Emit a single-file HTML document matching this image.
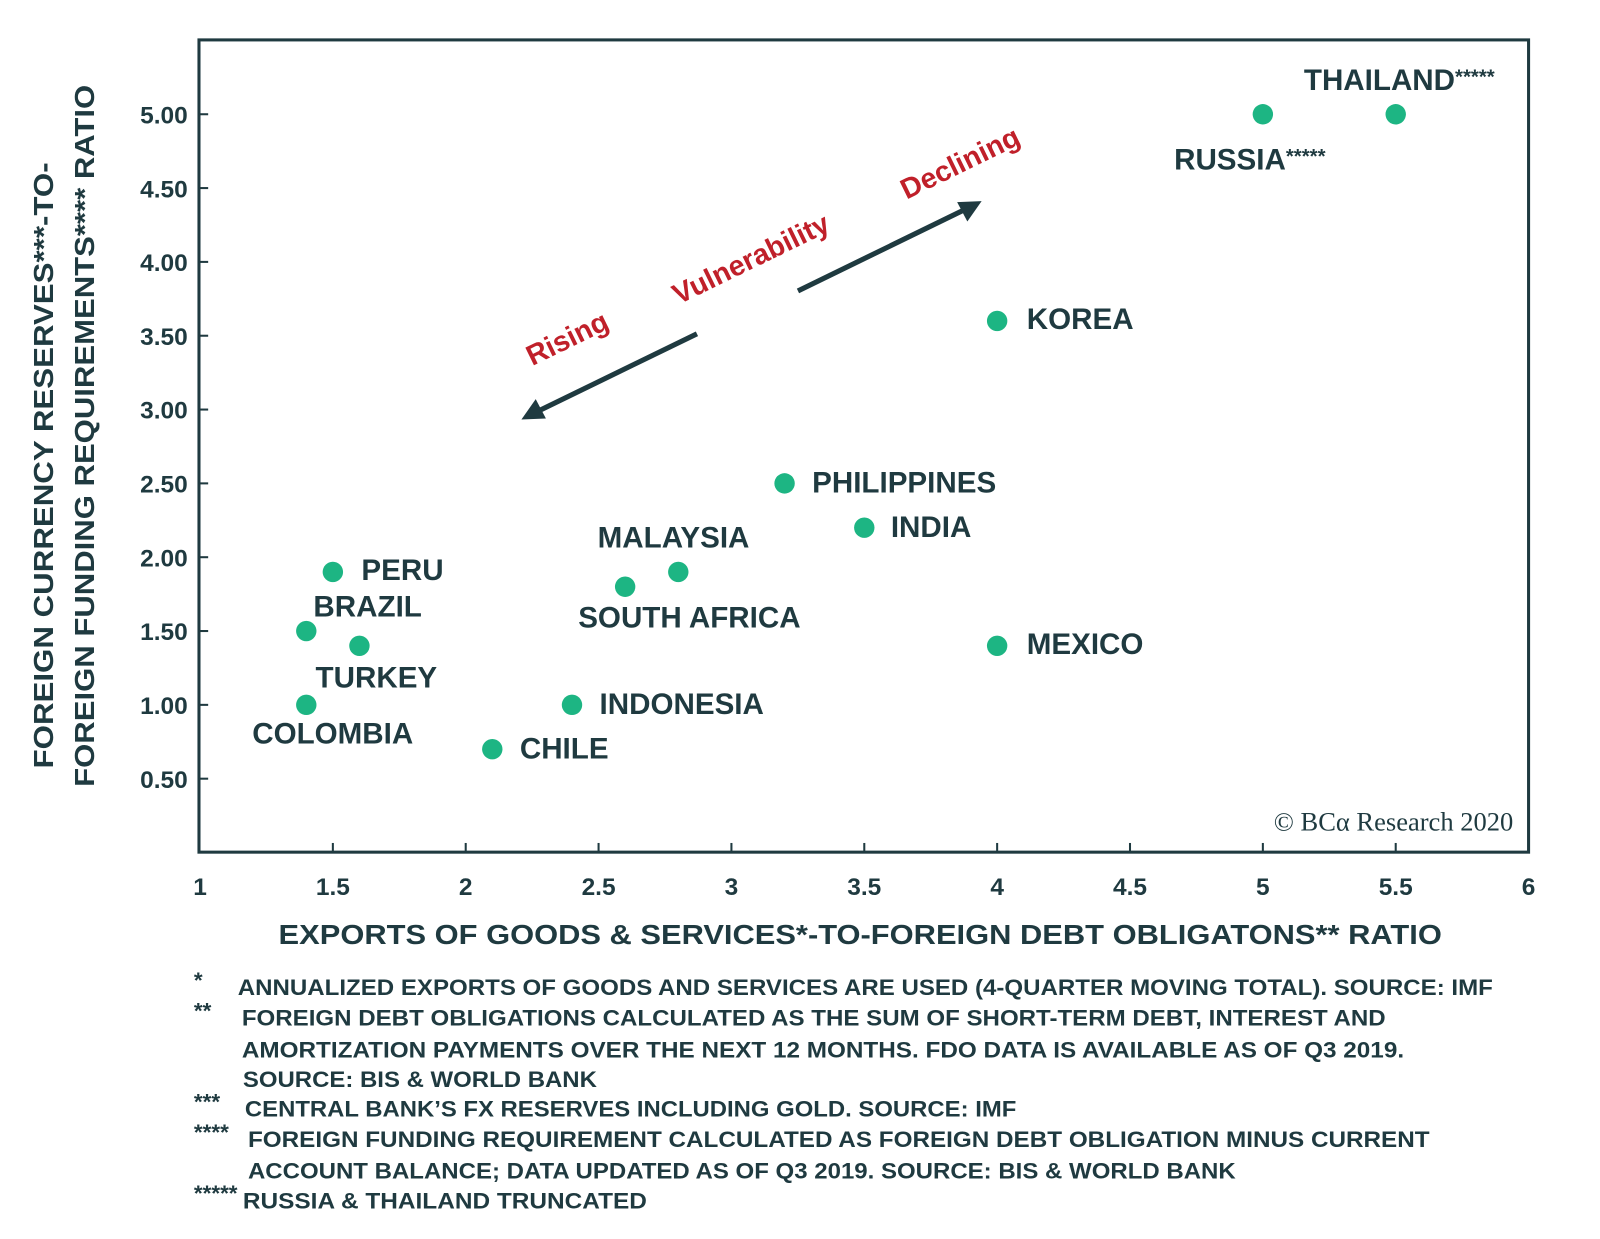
<!DOCTYPE html>
<html><head><meta charset="utf-8"><style>
html,body{margin:0;padding:0;background:#fff;}
svg{display:block;}
text{font-family:"Liberation Sans",sans-serif;fill:#1f3a40;}
</style></head><body>
<svg id="chart" width="1600" height="1239" viewBox="0 0 1568 1214" xmlns="http://www.w3.org/2000/svg">
<rect x="195" y="39" width="1303" height="796" fill="none" stroke="#1f3a40" stroke-width="3"/>
<g id="xt"></g><g id="yt"></g><g id="pts"></g>
<g>
<line x1="782" y1="285" x2="946" y2="205" stroke="#1f3a40" stroke-width="5"/>
<polygon points="962,197 938,198 948,217" fill="#1f3a40"/>
<line x1="683" y1="327" x2="527" y2="403" stroke="#1f3a40" stroke-width="5"/>
<polygon points="511,411 535,410 525,391" fill="#1f3a40"/>
<text transform="translate(560,340) rotate(-26)" text-anchor="middle" font-size="28" font-weight="bold" style="fill:#c0202a">Rising</text>
<text transform="translate(740,262) rotate(-26)" text-anchor="middle" font-size="28" font-weight="bold" style="fill:#c0202a">Vulnerability</text>
<text transform="translate(945,168) rotate(-26)" text-anchor="middle" font-size="28" font-weight="bold" style="fill:#c0202a">Declining</text>
</g>
<text x="1483" y="814" text-anchor="end" font-size="26" style="font-family:'Liberation Serif',serif">© BCα Research 2020</text>
<text transform="translate(52,456) rotate(-90)" text-anchor="middle" font-size="27" font-weight="bold" textLength="594" lengthAdjust="spacingAndGlyphs">FOREIGN CURRENCY RESERVES***-TO-</text>
<text transform="translate(92,427) rotate(-90)" text-anchor="middle" font-size="27" font-weight="bold" textLength="688" lengthAdjust="spacingAndGlyphs">FOREIGN FUNDING REQUIREMENTS**** RATIO</text>
<text x="273" y="925" font-size="27" font-weight="bold" textLength="1140" lengthAdjust="spacingAndGlyphs">EXPORTS OF GOODS &amp; SERVICES*-TO-FOREIGN DEBT OBLIGATONS** RATIO</text>
<g font-size="22" font-weight="bold">
<text x="190" y="968">*</text><text x="233" y="975" textLength="1230" lengthAdjust="spacingAndGlyphs">ANNUALIZED EXPORTS OF GOODS AND SERVICES ARE USED (4-QUARTER MOVING TOTAL). SOURCE: IMF</text>
<text x="190" y="998">**</text><text x="237" y="1005" textLength="1121" lengthAdjust="spacingAndGlyphs">FOREIGN DEBT OBLIGATIONS CALCULATED AS THE SUM OF SHORT-TERM DEBT, INTEREST AND</text>
<text x="237" y="1036" textLength="1139" lengthAdjust="spacingAndGlyphs">AMORTIZATION PAYMENTS OVER THE NEXT 12 MONTHS. FDO DATA IS AVAILABLE AS OF Q3 2019.</text>
<text x="238" y="1065" textLength="347" lengthAdjust="spacingAndGlyphs">SOURCE: BIS &amp; WORLD BANK</text>
<text x="190" y="1087">***</text><text x="240" y="1094" textLength="756" lengthAdjust="spacingAndGlyphs">CENTRAL BANK’S FX RESERVES INCLUDING GOLD. SOURCE: IMF</text>
<text x="190" y="1117">****</text><text x="243" y="1124" textLength="1158" lengthAdjust="spacingAndGlyphs">FOREIGN FUNDING REQUIREMENT CALCULATED AS FOREIGN DEBT OBLIGATION MINUS CURRENT</text>
<text x="243" y="1155" textLength="968" lengthAdjust="spacingAndGlyphs">ACCOUNT BALANCE; DATA UPDATED AS OF Q3 2019. SOURCE: BIS &amp; WORLD BANK</text>
<text x="190" y="1177">*****</text><text x="238" y="1184" textLength="396" lengthAdjust="spacingAndGlyphs">RUSSIA &amp; THAILAND TRUNCATED</text>
</g>
</svg>
<script>
const countries=["THAILAND","RUSSIA","KOREA","PHILIPPINES","INDIA","MALAYSIA","SOUTH AFRICA","MEXICO","INDONESIA","CHILE","PERU","BRAZIL","TURKEY","COLOMBIA"];
const xValues=[5.5,5,4,3.2,3.5,2.8,2.6,4,2.4,2.1,1.5,1.4,1.6,1.4];
const yValues=[5,5,3.6,2.5,2.2,1.9,1.8,1.4,1.0,0.7,1.9,1.5,1.4,1.0];
const labelSuffix=["*****","*****","","","","","","","","","","","",""];
const xTicks=[1,1.5,2,2.5,3,3.5,4,4.5,5,5.5,6];
const xTickLabels=["1","1.5","2","2.5","3","3.5","4","4.5","5","5.5","6"];
const yTicks=[0.5,1,1.5,2,2.5,3,3.5,4,4.5,5];
const yTickLabels=["0.50","1.00","1.50","2.00","2.50","3.00","3.50","4.00","4.50","5.00"];
// label offsets (dx, dy from point) in px
const labelDx=[-90,-87,29,27,26,-79,-46,29,27,27,28,7,-43,-53];
const labelDy=[-24,54,8,9,9,-24,40,8,9,9,8,-14,41,38];
const X=v=>196+(v-1)*260.4, Y=v=>763-(v-0.5)*144.7;
const NS="http://www.w3.org/2000/svg";
function mk(t,a,p){const e=document.createElementNS(NS,t);for(const k in a)e.setAttribute(k,a[k]);p.appendChild(e);return e;}
const xt=document.getElementById('xt'),yt=document.getElementById('yt'),pts=document.getElementById('pts');
xTicks.forEach((v,i)=>{
 if(i>0&&i<xTicks.length-1){const l=mk('line',{x1:X(v),x2:X(v),y1:835,y2:826,stroke:'#1f3a40','stroke-width':2},xt);
 
 }
 const t=mk('text',{x:X(v),y:877,'text-anchor':'middle','font-size':24,'font-weight':'bold'},xt);t.textContent=xTickLabels[i];
 
 
});
yTicks.forEach((v,i)=>{
 const l=mk('line',{x1:195,x2:204,y1:Y(v),y2:Y(v),stroke:'#1f3a40','stroke-width':2},yt);
 
 
 const t=mk('text',{x:184,y:Y(v)+9,'text-anchor':'end','font-size':24,'font-weight':'bold'},yt);t.textContent=yTickLabels[i];
 
 
});
countries.forEach((c,i)=>{
 const cx=X(xValues[i]),cy=Y(yValues[i]);
 const d=mk('circle',{cx:cx,cy:cy,r:10,fill:'#1db583'},pts);
 
 
 const t=mk('text',{x:cx+labelDx[i],y:cy+labelDy[i],'font-size':29,'font-weight':'bold'},pts);
 t.textContent=c;
 if(labelSuffix[i]){const s=mk('tspan',{'font-size':20,dy:-6},t);s.textContent=labelSuffix[i];}
 
 
});
</script>
</body></html>
